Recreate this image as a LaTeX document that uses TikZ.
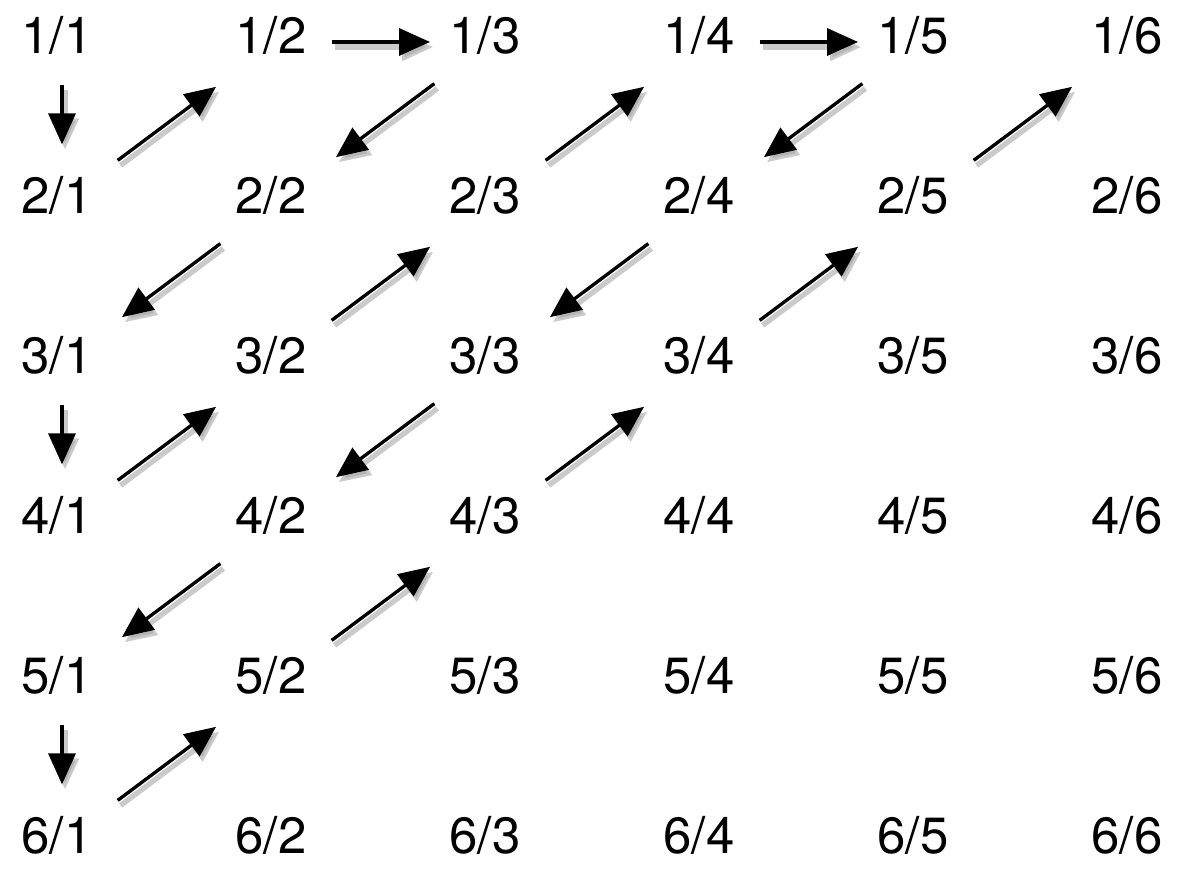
\documentclass[tikz,border=0pt]{standalone}
\usepackage{fontspec}
\setmainfont{TeX Gyre Heros}
\usetikzlibrary{arrows.meta,calc}

\begin{document}
\begin{tikzpicture}[x=0.02cm, y=-0.02cm, every node/.style={font=\fontsize{29}{35}\selectfont, inner sep=0pt}]
\tikzset{
  frac/.style={anchor=center},
  link/.style={-{Triangle[length=0.62cm, width=0.54cm]}, line width=1.9pt, draw=black, transform canvas={shift={(5,7)}}},
  linkshadow/.style={-{Triangle[length=0.62cm, width=0.54cm]}, line width=3pt, draw=black!35, opacity=0.6, transform canvas={shift={(8,12)}}}
}
\useasboundingbox (0,0) rectangle (1182,868);
% grid of fractions
\foreach \r in {1,...,6}
  \foreach \c in {1,...,6}
    \node[frac] (n\r\c) at ({57+214*(\c-1)}, {35+160*(\r-1)}) {\r/\c};
% steps down the first column
\foreach \a/\b in {n11/n21, n31/n41, n51/n61} {
  \draw[linkshadow] ($(\a)!0.27!(\b)$) -- ($(\a)!0.64!(\b)$);
  \draw[link] ($(\a)!0.27!(\b)$) -- ($(\a)!0.64!(\b)$);
}
% steps along the first row and the diagonals
\foreach \a/\b in {n12/n13, n14/n15, n21/n12, n13/n22, n22/n31, n41/n32, n32/n23, n23/n14,
  n15/n24, n24/n33, n33/n42, n42/n51, n61/n52, n52/n43, n43/n34, n34/n25, n25/n16} {
  \draw[linkshadow] ($(\a)!0.26!(\b)$) -- ($(\a)!0.72!(\b)$);
  \draw[link] ($(\a)!0.26!(\b)$) -- ($(\a)!0.72!(\b)$);
}
\end{tikzpicture}
\end{document}
